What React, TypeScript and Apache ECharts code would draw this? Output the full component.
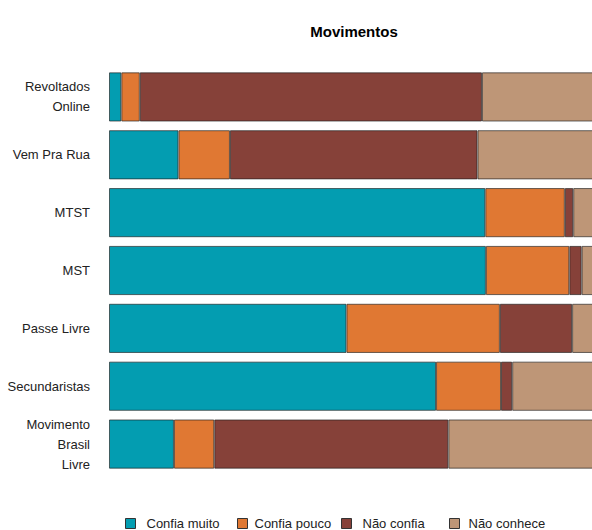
import React, { useEffect, useRef } from "react";
import * as echarts from "echarts";

const categories = [
  "Revoltados\nOnline",
  "Vem Pra Rua",
  "MTST",
  "MST",
  "Passe Livre",
  "Secundaristas",
  "Movimento\nBrasil\nLivre",
];
const seriesNames = ["Confia muito", "Confia pouco", "Não confia", "Não conhece"];
const confiaMuito = [2.2, 12.4, 67.2, 67.3, 42.4, 58.4, 11.6];
const confiaPouco = [3.3, 9.2, 14.2, 14.9, 27.4, 11.6, 7.2];
const naoConfia = [61.1, 44.2, 1.5, 2.2, 12.9, 2.0, 41.8];
const naoConhece = [33.4, 34.2, 17.1, 15.6, 17.3, 28.0, 39.4];
const colors = ["#039DB1", "#E07833", "#864139", "#BE9677"];

const FONT = "'Liberation Sans', Arial, Helvetica, sans-serif";

export default function App() {
  const ref = useRef<HTMLDivElement>(null);
  useEffect(() => {
    if (!ref.current) return;
    const chart = echarts.init(ref.current, null, { renderer: "svg" });
    const data = [confiaMuito, confiaPouco, naoConfia, naoConhece];
    const legendLefts = [125, 237, 341, 449];
    const legendPads = [6, 2, 6, 4];
    chart.setOption({
      animation: false,
      title: {
        text: "Movimentos",
        left: 349,
        textAlign: "center",
        top: 19,
        textStyle: { fontFamily: FONT, fontSize: 15, fontWeight: "bold", color: "#000" },
      },
      legend: seriesNames.map((n, i) => ({
        data: [n],
        left: legendLefts[i],
        top: 517,
        padding: 0,
        itemWidth: 10,
        itemHeight: 10,
        icon: "rect",
        itemStyle: { borderColor: "#333", borderWidth: 1 },
        textStyle: { fontFamily: FONT, fontSize: 13, color: "#222", padding: [0, 0, 0, legendPads[i]] },
        selectedMode: false,
      })),
      grid: { left: 109, right: 31, top: 68, bottom: 57, containLabel: false },
      xAxis: { type: "value", min: 0, max: 100, show: false },
      yAxis: {
        type: "category",
        data: categories,
        inverse: true,
        axisLine: { show: false },
        axisTick: { show: false },
        axisLabel: {
          margin: 19,
          fontFamily: FONT,
          fontSize: 13,
          color: "#222",
          lineHeight: 20,
          align: "right",
        },
      },
      series: seriesNames.map((n, i) => ({
        name: n,
        type: "bar",
        stack: "total",
        barCategoryGap: "15%",
        data: data[i],
        itemStyle: { color: colors[i], borderColor: "rgba(30,30,30,0.65)", borderWidth: 1 },
      })),
    });
    return () => chart.dispose();
  }, []);
  return (
    <div style={{ position: "fixed", left: 0, top: 0, width: 592, height: 530, overflow: "hidden", background: "#fff" }}>
      <div ref={ref} style={{ width: 700, height: 530 }} />
    </div>
  );
}
